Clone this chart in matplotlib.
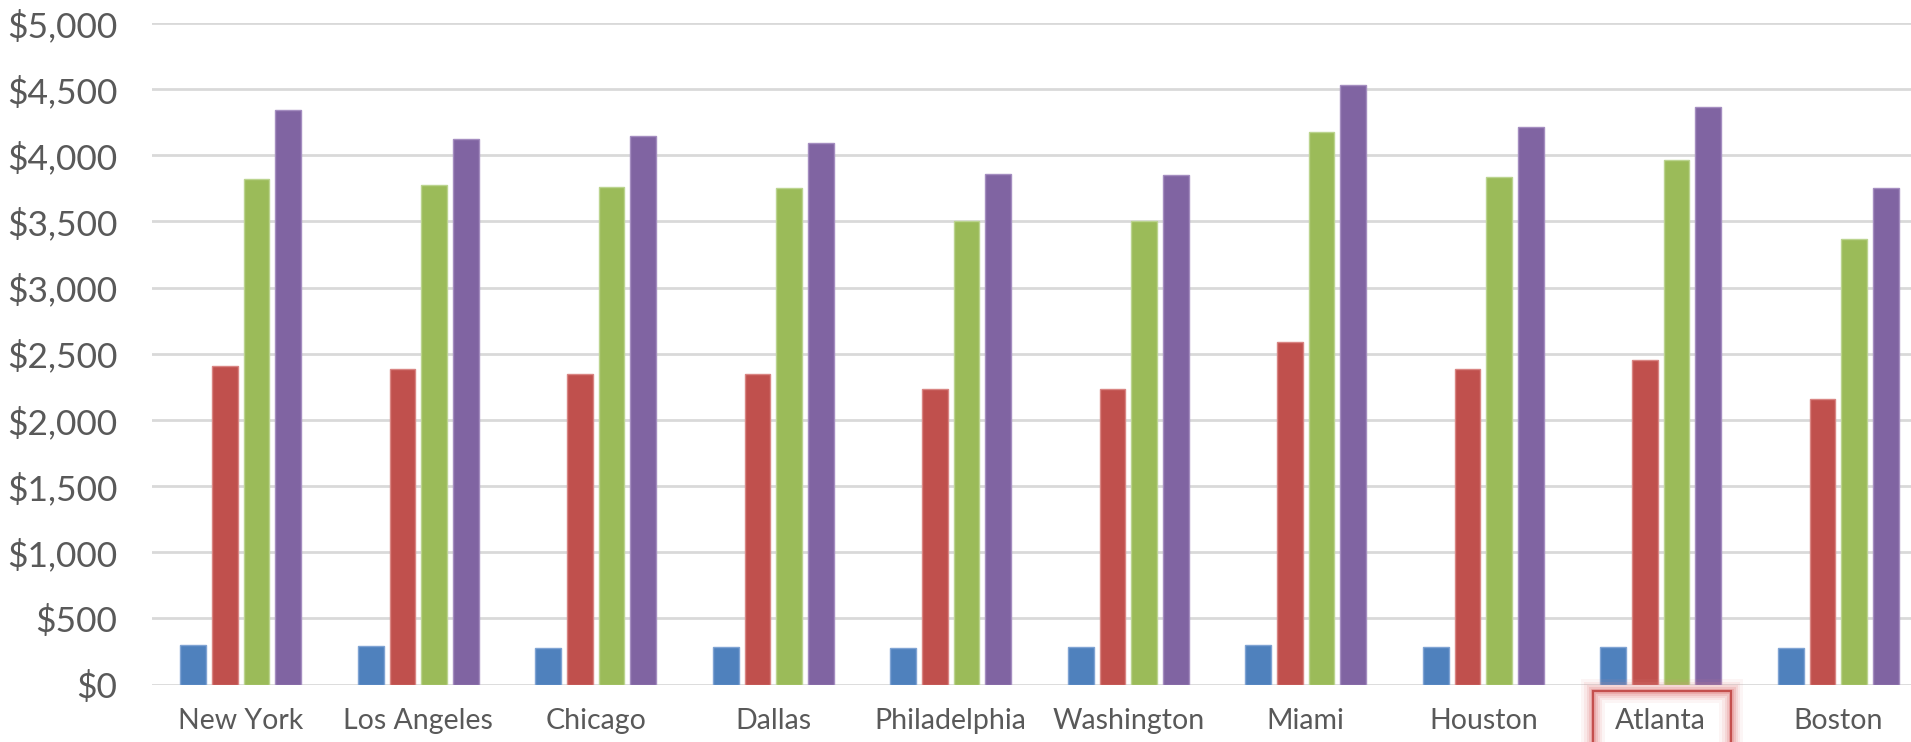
import numpy as np
import matplotlib as mpl
import matplotlib.pyplot as plt
from matplotlib.patches import Rectangle

# data
cities = ['New York', 'Los Angeles', 'Chicago', 'Dallas', 'Philadelphia',
          'Washington', 'Miami', 'Houston', 'Atlanta', 'Boston']
series_1 = [300, 290, 277, 283, 278, 280, 295, 283, 283, 277]
series_2 = [2405, 2385, 2350, 2348, 2230, 2237, 2589, 2385, 2456, 2160]
series_3 = [3820, 3775, 3760, 3752, 3506, 3503, 4178, 3838, 3967, 3365]
series_4 = [4344, 4125, 4145, 4092, 3858, 3850, 4528, 4211, 4362, 3752]
yticks = [0, 500, 1000, 1500, 2000, 2500, 3000, 3500, 4000, 4500, 5000]
highlight = 'Atlanta'

colors = ['#4F81BD', '#C0504D', '#9BBB59', '#8064A2']
edge_colors = ['#7FA3D3', '#D98583', '#BBD48F', '#A48DC0']

plt.rcParams['font.family'] = ['Lato', 'DejaVu Sans']

W, H = 1911, 742
fig = plt.figure(figsize=(W / 100, H / 100), dpi=100)
ax = fig.add_axes([152 / W, (H - 684.5) / H, (W - 152) / W, (684.5 - 23) / H])

x = np.arange(len(cities))
step = 0.178
width = 0.145
for i, vals in enumerate([series_1, series_2, series_3, series_4]):
    ax.bar(x + (i - 1.5) * step, vals, width, color=colors[i],
           edgecolor=edge_colors[i], linewidth=1.0, zorder=3)

ax.set_ylim(0, 5000)
ax.set_xlim(-0.5, -0.5 + (W - 152) / 177.5)
ax.set_yticks(yticks)
ax.set_yticklabels(['${:,}'.format(v) for v in yticks])
ax.set_xticks(x)
ax.set_xticklabels(cities)
ax.grid(axis='y', color='#D9D9D9', linewidth=2, zorder=0)
ax.set_axisbelow(True)
for s in ax.spines.values():
    s.set_visible(False)
ax.tick_params(axis='y', length=0, pad=25, labelsize=25.5, labelcolor='#595959')
ax.tick_params(axis='x', length=0, pad=17, labelsize=20.5, labelcolor='#595959')

# selection box with a soft glow around the highlighted label
fig.canvas.draw()
lab = ax.get_xticklabels()[cities.index(highlight)]
bb = lab.get_window_extent()
x0, x1 = bb.x0 - 22, bb.x1 + 25
ytop = bb.y1 + 17
ybot = -20
for lw, a in [(24, 0.08), (18, 0.12), (13, 0.18), (9, 0.26), (5, 0.4)]:
    fig.patches.append(Rectangle((x0 / W, ybot / H), (x1 - x0) / W, (ytop - ybot) / H,
                                 transform=fig.transFigure, fill=False,
                                 edgecolor='#E58A8A', linewidth=lw * 0.72, alpha=a))
fig.patches.append(Rectangle((x0 / W, ybot / H), (x1 - x0) / W, (ytop - ybot) / H,
                             transform=fig.transFigure, fill=False,
                             edgecolor='#C44F4D', linewidth=1.6))

plt.savefig('out.png', dpi=100)
